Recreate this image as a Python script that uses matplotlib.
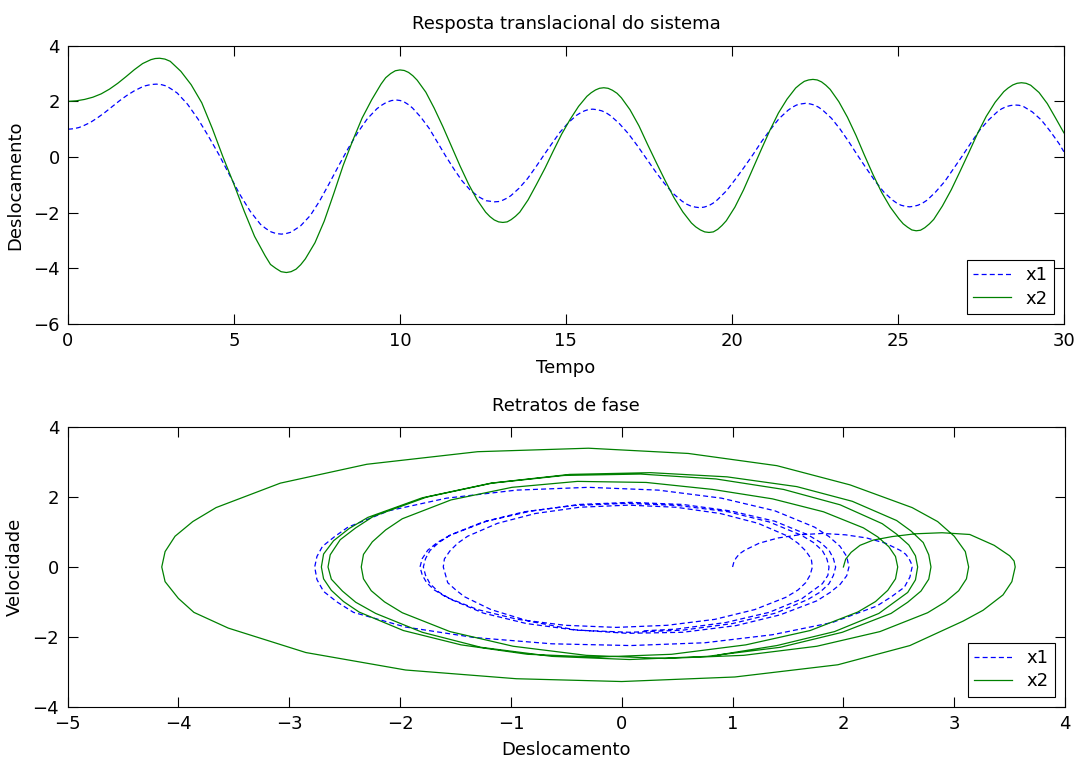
import matplotlib
matplotlib.use('Agg')
import matplotlib.pyplot as plt

# x1 (mass 1) - time, displacement, velocity
t1 = [0.00, 0.11, 0.22, 0.33, 0.44, 0.67, 0.89, 1.11, 1.33, 1.55, 1.77, 2.00, 2.22, 2.33, 2.44, 2.55, 2.66,
      2.82, 2.97, 3.13, 3.29, 3.60, 3.92, 4.23, 4.55, 4.86, 5.17, 5.49, 5.80, 5.96, 6.12, 6.27, 6.43,
      6.57, 6.72, 6.86, 7.01, 7.30, 7.58, 7.87, 8.16, 8.45, 8.74, 9.02, 9.31, 9.46, 9.60, 9.75, 9.89,
      10.01, 10.14, 10.26, 10.38, 10.63, 10.88, 11.12, 11.37, 11.62, 11.86, 12.11, 12.36, 12.48, 12.60, 12.73, 12.85,
      12.97, 13.10, 13.22, 13.34, 13.59, 13.84, 14.08, 14.33, 14.58, 14.82, 15.07, 15.32, 15.44, 15.56, 15.69, 15.81,
      15.94, 16.08, 16.21, 16.35, 16.61, 16.88, 17.15, 17.42, 17.69, 17.96, 18.22, 18.49, 18.63, 18.76, 18.90, 19.03,
      19.16, 19.30, 19.43, 19.56, 19.83, 20.09, 20.36, 20.63, 20.89, 21.16, 21.42, 21.69, 21.82, 21.95, 22.09, 22.22,
      22.35, 22.48, 22.61, 22.74, 23.00, 23.26, 23.52, 23.78, 24.05, 24.31, 24.57, 24.83, 24.96, 25.09, 25.22, 25.35,
      25.48, 25.61, 25.75, 25.88, 26.14, 26.41, 26.67, 26.94, 27.20, 27.46, 27.73, 27.99, 28.12, 28.26, 28.39, 28.52,
      28.65, 28.79, 29.05, 29.32, 29.58, 29.85, 30.00]
x1 = [1.00, 1.01, 1.03, 1.06, 1.11, 1.24, 1.41, 1.60, 1.81, 2.02, 2.21, 2.38, 2.51, 2.56, 2.59, 2.61, 2.62,
      2.60, 2.55, 2.43, 2.30, 1.90, 1.36, 0.75, 0.08, -0.63, -1.33, -1.95, -2.42, -2.57, -2.69, -2.75, -2.77,
      -2.75, -2.70, -2.59, -2.47, -2.10, -1.58, -0.95, -0.30, 0.33, 0.90, 1.38, 1.74, 1.87, 1.97, 2.03, 2.05,
      2.03, 1.97, 1.88, 1.76, 1.43, 1.03, 0.55, 0.05, -0.42, -0.84, -1.18, -1.42, -1.50, -1.57, -1.59, -1.61,
      -1.60, -1.55, -1.48, -1.39, -1.12, -0.78, -0.38, 0.06, 0.49, 0.89, 1.23, 1.50, 1.59, 1.66, 1.71, 1.72,
      1.70, 1.66, 1.59, 1.48, 1.20, 0.84, 0.41, -0.05, -0.51, -0.94, -1.30, -1.58, -1.69, -1.76, -1.80, -1.82,
      -1.80, -1.75, -1.66, -1.54, -1.22, -0.82, -0.38, 0.08, 0.55, 0.99, 1.38, 1.68, 1.79, 1.87, 1.91, 1.93,
      1.91, 1.87, 1.79, 1.68, 1.39, 1.00, 0.55, 0.07, -0.41, -0.86, -1.25, -1.54, -1.65, -1.73, -1.77, -1.79,
      -1.77, -1.73, -1.65, -1.55, -1.25, -0.88, -0.43, 0.04, 0.51, 0.96, 1.33, 1.62, 1.73, 1.81, 1.85, 1.87,
      1.86, 1.81, 1.62, 1.33, 0.94, 0.49, 0.19]
v1 = [0.00, 0.12, 0.25, 0.37, 0.48, 0.68, 0.83, 0.92, 0.96, 0.92, 0.83, 0.68, 0.48, 0.37, 0.25, 0.12, 0.00,
      -0.29, -0.58, -0.86, -1.12, -1.59, -1.94, -2.17, -2.25, -2.20, -2.02, -1.72, -1.30, -1.00, -0.70, -0.36, 0.00,
      0.30, 0.59, 0.87, 1.14, 1.61, 1.97, 2.20, 2.28, 2.20, 1.97, 1.61, 1.14, 0.87, 0.59, 0.30, 0.00,
      -0.25, -0.50, -0.73, -0.97, -1.37, -1.68, -1.87, -1.90, -1.80, -1.55, -1.22, -0.85, -0.65, -0.45, -0.23, 0.00,
      0.23, 0.46, 0.68, 0.88, 1.25, 1.53, 1.71, 1.77, 1.71, 1.53, 1.25, 0.88, 0.68, 0.46, 0.23, 0.00,
      -0.23, -0.45, -0.66, -0.87, -1.22, -1.50, -1.67, -1.73, -1.67, -1.50, -1.22, -0.87, -0.66, -0.45, -0.23, 0.00,
      0.24, 0.48, 0.71, 0.92, 1.31, 1.60, 1.79, 1.85, 1.79, 1.60, 1.31, 0.92, 0.71, 0.48, 0.24, 0.00,
      -0.24, -0.48, -0.72, -0.93, -1.32, -1.62, -1.81, -1.87, -1.81, -1.62, -1.32, -0.93, -0.72, -0.48, -0.24, 0.00,
      0.24, 0.47, 0.70, 0.91, 1.29, 1.58, 1.76, 1.82, 1.76, 1.58, 1.29, 0.91, 0.70, 0.47, 0.24, 0.00,
      -0.24, -0.48, -0.92, -1.30, -1.59, -1.78, -1.83]

# x2 (mass 2)
t2 = [0.00, 0.25, 0.50, 0.75, 1.00, 1.25, 1.50, 1.75, 2.00, 2.25, 2.50, 2.63, 2.76,
      2.92, 3.08, 3.24, 3.40, 3.71, 4.03, 4.35, 4.67, 4.99, 5.31, 5.62, 5.94, 6.10, 6.26, 6.42, 6.58,
      6.72, 6.87, 7.01, 7.15, 7.44, 7.72, 8.01, 8.29, 8.58, 8.86, 9.15, 9.43, 9.57, 9.72, 9.86, 10.00,
      10.13, 10.26, 10.39, 10.52, 10.78, 11.03, 11.29, 11.55, 11.81, 12.07, 12.33, 12.58, 12.71, 12.84, 12.97, 13.10,
      13.23, 13.35, 13.48, 13.61, 13.86, 14.11, 14.37, 14.62, 14.87, 15.13, 15.38, 15.63, 15.76, 15.89, 16.01, 16.14,
      16.27, 16.40, 16.54, 16.67, 16.93, 17.20, 17.46, 17.73, 17.99, 18.25, 18.52, 18.78, 18.91, 19.05, 19.18, 19.31,
      19.44, 19.57, 19.70, 19.83, 20.09, 20.35, 20.61, 20.88, 21.14, 21.40, 21.66, 21.92, 22.05, 22.18, 22.31, 22.44,
      22.57, 22.70, 22.83, 22.96, 23.22, 23.48, 23.74, 23.99, 24.25, 24.51, 24.77, 25.03, 25.16, 25.29, 25.42, 25.55,
      25.68, 25.81, 25.95, 26.08, 26.34, 26.61, 26.87, 27.14, 27.40, 27.66, 27.93, 28.19, 28.32, 28.46, 28.59, 28.72,
      28.86, 29.00, 29.25, 29.50, 29.75, 30.00]
x2 = [2.00, 2.02, 2.07, 2.15, 2.27, 2.44, 2.65, 2.89, 3.14, 3.36, 3.50, 3.54, 3.55,
      3.52, 3.44, 3.26, 3.08, 2.60, 1.95, 1.02, 0.00, -0.95, -1.95, -2.85, -3.55, -3.86, -4.00, -4.12, -4.15,
      -4.12, -4.03, -3.87, -3.66, -3.08, -2.30, -1.30, -0.30, 0.60, 1.40, 2.06, 2.62, 2.85, 3.00, 3.10, 3.13,
      3.11, 3.04, 2.92, 2.76, 2.33, 1.76, 1.10, 0.39, -0.32, -0.98, -1.55, -1.98, -2.14, -2.26, -2.33, -2.35,
      -2.33, -2.25, -2.13, -1.98, -1.54, -0.99, -0.40, 0.22, 0.82, 1.36, 1.82, 2.18, 2.31, 2.41, 2.47, 2.49,
      2.47, 2.40, 2.29, 2.13, 1.70, 1.12, 0.45, -0.22, -0.85, -1.45, -1.97, -2.37, -2.51, -2.62, -2.69, -2.71,
      -2.69, -2.60, -2.46, -2.29, -1.80, -1.18, -0.47, 0.26, 0.95, 1.58, 2.08, 2.48, 2.61, 2.72, 2.77, 2.79,
      2.77, 2.70, 2.58, 2.43, 1.99, 1.43, 0.77, 0.07, -0.63, -1.27, -1.80, -2.22, -2.40, -2.52, -2.62, -2.65,
      -2.63, -2.54, -2.40, -2.24, -1.76, -1.17, -0.52, 0.17, 0.85, 1.46, 1.97, 2.35, 2.48, 2.59, 2.65, 2.67,
      2.65, 2.58, 2.32, 1.92, 1.40, 0.87]
v2 = [0.00, 0.22, 0.42, 0.62, 0.77, 0.87, 0.95, 0.98, 0.93, 0.62, 0.32, 0.17, 0.00,
      -0.42, -0.80, -1.24, -1.55, -2.25, -2.80, -3.15, -3.28, -3.20, -2.95, -2.45, -1.75, -1.30, -0.90, -0.42, 0.00,
      0.44, 0.88, 1.30, 1.70, 2.40, 2.94, 3.30, 3.40, 3.25, 2.90, 2.35, 1.70, 1.30, 0.88, 0.44, 0.00,
      -0.34, -0.68, -1.00, -1.31, -1.85, -2.27, -2.53, -2.62, -2.53, -2.27, -1.85, -1.31, -1.00, -0.68, -0.34, 0.00,
      0.36, 0.72, 1.06, 1.38, 1.92, 2.28, 2.45, 2.42, 2.22, 1.95, 1.58, 1.12, 0.86, 0.58, 0.30, 0.00,
      -0.34, -0.67, -0.99, -1.29, -1.82, -2.23, -2.50, -2.58, -2.50, -2.23, -1.82, -1.29, -0.99, -0.67, -0.34, 0.00,
      0.37, 0.75, 1.10, 1.42, 1.98, 2.40, 2.65, 2.70, 2.58, 2.30, 1.88, 1.33, 1.03, 0.70, 0.35, 0.00,
      -0.35, -0.69, -1.01, -1.33, -1.87, -2.30, -2.56, -2.65, -2.56, -2.30, -1.87, -1.33, -1.01, -0.69, -0.35, 0.00,
      0.35, 0.78, 1.12, 1.45, 2.00, 2.40, 2.62, 2.66, 2.52, 2.22, 1.78, 1.24, 0.94, 0.63, 0.32, 0.00,
      -0.37, -0.73, -1.33, -1.85, -2.25, -2.52]

labels = ['x1', 'x2']
top_xticks = [0, 5, 10, 15, 20, 25, 30]
top_yticks = [-6, -4, -2, 0, 2, 4]
bot_xticks = [-5, -4, -3, -2, -1, 0, 1, 2, 3, 4]
bot_yticks = [-4, -2, 0, 2, 4]

BLUE = (0, 0, 1)
GREEN = (0, 0.5, 0)

plt.rcParams['font.family'] = ['DejaVu Sans']
plt.rcParams['font.size'] = 13


def style_axes(ax):
    # matlab look: box on, ticks inside on all four sides
    for s in ax.spines.values():
        s.set_linewidth(0.8)
    ax.tick_params(direction='in', length=7, width=0.8, pad=6,
                   top=True, right=True, labelsize=13)


def add_legend(ax):
    leg = ax.legend(labels, loc='lower right', fancybox=False, edgecolor='black',
                    framealpha=1, borderaxespad=0.55, handlelength=2.1,
                    labelspacing=0.3, borderpad=0.35, handletextpad=0.8)
    leg.get_frame().set_linewidth(0.8)


fig = plt.figure(figsize=(10.79, 7.62), dpi=100)
ax1 = fig.add_axes([0.063, 0.5748, 0.923, 0.3652])
ax2 = fig.add_axes([0.0626, 0.0726, 0.9245, 0.3667])

# time response
ax1.plot(t1, x1, '--', color=BLUE, lw=0.9, dashes=(4, 2.5))
ax1.plot(t2, x2, '-', color=GREEN, lw=0.9)
ax1.set_xlim(0, 30)
ax1.set_ylim(-6, 4)
ax1.set_xticks(top_xticks)
ax1.set_yticks(top_yticks)
ax1.set_title('Resposta translacional do sistema', fontsize=13, pad=12)
ax1.set_xlabel('Tempo', labelpad=6)
ax1.set_ylabel('Deslocamento', labelpad=6)
style_axes(ax1)
add_legend(ax1)

# phase portraits
ax2.plot(x1, v1, '--', color=BLUE, lw=0.9, dashes=(4, 2.5))
ax2.plot(x2, v2, '-', color=GREEN, lw=0.9)
ax2.set_xlim(-5, 4)
ax2.set_ylim(-4, 4)
ax2.set_xticks(bot_xticks)
ax2.set_yticks(bot_yticks)
ax2.set_title('Retratos de fase', fontsize=13, pad=12)
ax2.set_xlabel('Deslocamento', labelpad=6)
ax2.set_ylabel('Velocidade', labelpad=6)
style_axes(ax2)
add_legend(ax2)

fig.savefig('out.png', dpi=100, facecolor='white')
